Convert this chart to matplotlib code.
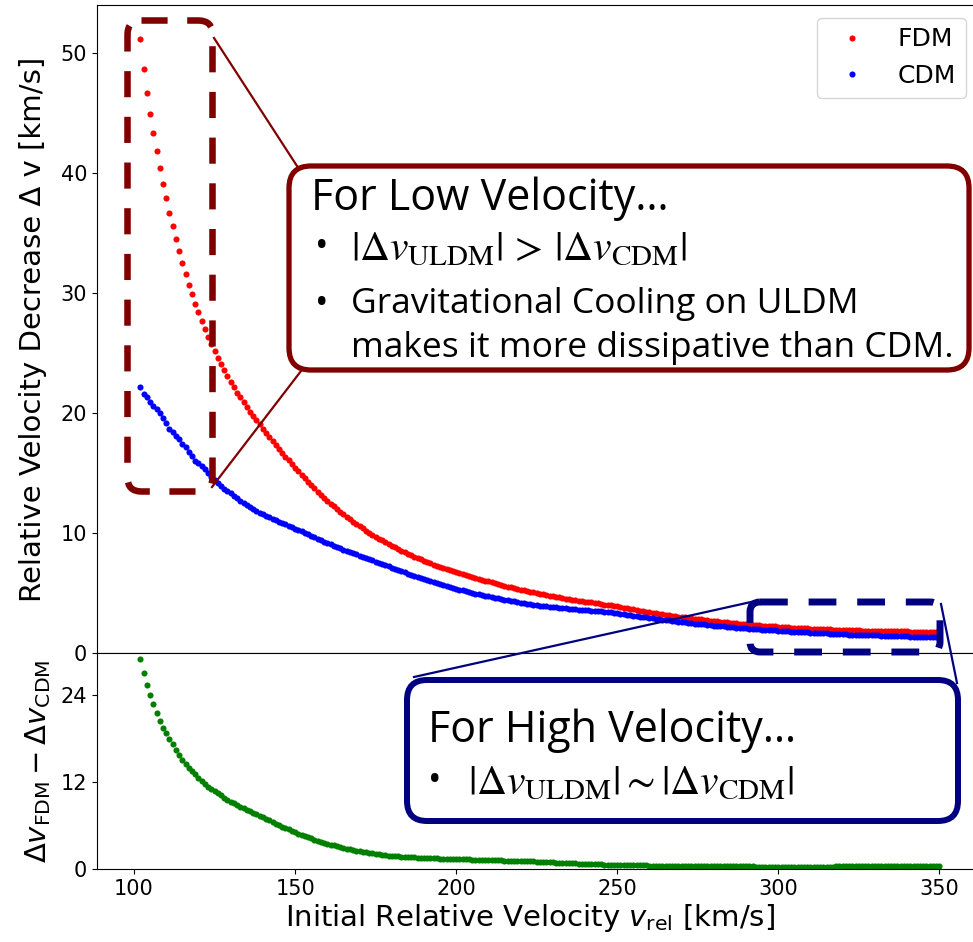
import numpy as np
import matplotlib
matplotlib.use("Agg")
import matplotlib.pyplot as plt
from matplotlib.patches import FancyBboxPatch

# Initial relative velocity grid [km/s]
v_rel = np.arange(102, 351)

# Relative velocity decrease for fuzzy (ultralight) dark matter [km/s]
dv_fdm = np.array([
    51.2, 48.7, 46.7, 44.9, 43.3, 41.8, 40.4, 39.1, 37.9, 36.7,
    35.6, 34.5, 33.5, 32.5, 31.6, 30.7, 29.9, 29.1, 28.4, 27.7,
    27.0, 26.35, 25.75, 25.15, 24.6, 24.05, 23.55, 23.05, 22.6, 22.15,
    21.7, 21.3, 20.9, 20.5, 20.1, 19.75, 19.4, 19.05, 18.7, 18.35,
    18.01, 17.67, 17.34, 17.01, 16.69, 16.37, 16.06, 15.75, 15.45, 15.14,
    14.84, 14.55, 14.26, 13.98, 13.71, 13.44, 13.18, 12.93, 12.68, 12.44,
    12.21, 11.98, 11.76, 11.55, 11.34, 11.14, 10.94, 10.75, 10.56, 10.38,
    10.2, 10.03, 9.86, 9.7, 9.54, 9.38, 9.23, 9.08, 8.94, 8.8,
    8.66, 8.53, 8.4, 8.27, 8.15, 8.03, 7.91, 7.8, 7.69, 7.58,
    7.47, 7.37, 7.27, 7.17, 7.07, 6.98, 6.89, 6.8, 6.71, 6.63,
    6.55, 6.47, 6.39, 6.31, 6.24, 6.17, 6.1, 6.03, 5.96, 5.89,
    5.82, 5.75, 5.68, 5.61, 5.54, 5.47, 5.41, 5.35, 5.29, 5.23,
    5.17, 5.11, 5.05, 4.99, 4.94, 4.89, 4.84, 4.79, 4.74, 4.69,
    4.64, 4.59, 4.54, 4.49, 4.45, 4.41, 4.37, 4.33, 4.29, 4.25,
    4.21, 4.17, 4.13, 4.09, 4.04, 4.0, 3.96, 3.92, 3.88, 3.83,
    3.78, 3.73, 3.68, 3.63, 3.58, 3.54, 3.49, 3.45, 3.40, 3.36,
    3.32, 3.27, 3.23, 3.19, 3.15, 3.11, 3.07, 3.04, 3.0, 2.97,
    2.93, 2.9, 2.86, 2.83, 2.8, 2.77, 2.73, 2.7, 2.67, 2.64,
    2.61, 2.59, 2.56, 2.53, 2.5, 2.48, 2.45, 2.43, 2.4, 2.38,
    2.36, 2.34, 2.31, 2.29, 2.27, 2.25, 2.23, 2.21, 2.19, 2.17,
    2.16, 2.14, 2.12, 2.11, 2.09, 2.08, 2.06, 2.05, 2.03, 2.02,
    2.01, 2.0, 1.98, 1.97, 1.96, 1.95, 1.94, 1.93, 1.92, 1.91,
    1.9, 1.89, 1.89, 1.88, 1.87, 1.86, 1.86, 1.85, 1.84, 1.84,
    1.83, 1.83, 1.82, 1.82, 1.81, 1.81, 1.8, 1.8, 1.8, 1.79,
    1.79, 1.79, 1.78, 1.78, 1.78, 1.77, 1.77, 1.77, 1.76,
])

# Relative velocity decrease for cold dark matter [km/s]
dv_cdm = np.array([
    22.2, 21.6, 21.3, 20.9, 20.6, 20.3, 20.0, 19.6, 19.2, 18.7,
    18.4, 18.05, 17.8, 17.45, 17.15, 16.75, 16.4, 16.0, 15.8, 15.55,
    15.3, 15.0, 14.7, 14.4, 14.15, 13.9, 13.7, 13.5, 13.3, 13.1,
    12.9, 12.7, 12.5, 12.3, 12.15, 12.0, 11.85, 11.7, 11.55, 11.43,
    11.31, 11.19, 11.07, 10.95, 10.83, 10.71, 10.59, 10.48, 10.37, 10.25,
    10.13, 10.01, 9.89, 9.77, 9.65, 9.53, 9.41, 9.29, 9.17, 9.06,
    8.95, 8.84, 8.73, 8.62, 8.52, 8.42, 8.32, 8.22, 8.12, 8.02,
    7.92, 7.82, 7.72, 7.62, 7.52, 7.42, 7.32, 7.22, 7.12, 7.02,
    6.92, 6.82, 6.72, 6.62, 6.52, 6.42, 6.33, 6.24, 6.15, 6.06,
    5.97, 5.89, 5.81, 5.73, 5.65, 5.57, 5.49, 5.42, 5.35, 5.28,
    5.21, 5.14, 5.07, 5.01, 4.95, 4.89, 4.83, 4.77, 4.71, 4.65,
    4.6, 4.55, 4.5, 4.45, 4.4, 4.35, 4.3, 4.25, 4.2, 4.15,
    4.1, 4.05, 4.0, 3.96, 3.94, 3.91, 3.89, 3.86, 3.84, 3.81,
    3.78, 3.75, 3.72, 3.69, 3.67, 3.65, 3.62, 3.6, 3.57, 3.55,
    3.53, 3.51, 3.48, 3.46, 3.43, 3.4, 3.38, 3.35, 3.33, 3.29,
    3.24, 3.2, 3.16, 3.11, 3.07, 3.04, 3.0, 2.96, 2.92, 2.89,
    2.85, 2.81, 2.77, 2.74, 2.71, 2.67, 2.64, 2.61, 2.58, 2.55,
    2.52, 2.49, 2.45, 2.43, 2.4, 2.38, 2.34, 2.32, 2.29, 2.26,
    2.24, 2.22, 2.19, 2.17, 2.14, 2.12, 2.09, 2.08, 2.05, 2.03,
    2.01, 2.0, 1.97, 1.95, 1.93, 1.91, 1.9, 1.88, 1.86, 1.84,
    1.83, 1.81, 1.79, 1.78, 1.76, 1.75, 1.73, 1.72, 1.7, 1.69,
    1.68, 1.66, 1.64, 1.63, 1.62, 1.61, 1.59, 1.58, 1.57, 1.56,
    1.54, 1.53, 1.53, 1.51, 1.5, 1.49, 1.49, 1.47, 1.46, 1.46,
    1.44, 1.44, 1.43, 1.42, 1.41, 1.41, 1.39, 1.39, 1.38, 1.37,
    1.37, 1.36, 1.35, 1.35, 1.34, 1.33, 1.33, 1.32, 1.31,
])

# Difference panel
dv_diff = dv_fdm - dv_cdm

x_ticks = [100, 150, 200, 250, 300, 350]
top_yticks = [0, 10, 20, 30, 40, 50]
bottom_yticks = [0, 12, 24]

W, H = 973, 942
fig = plt.figure(figsize=(W / 100, H / 100), dpi=100)


def px_rect(left, top, right, bottom):
    """Figure-fraction rectangle from pixel edges (origin top-left)."""
    return [left / W, 1 - bottom / H, (right - left) / W, (bottom - top) / H]


ax_top = fig.add_axes(px_rect(97, 5, 978, 653))
ax_bot = fig.add_axes(px_rect(97, 653, 978, 869))

marker_kw = dict(linestyle="none", marker="o", ms=4.4, mew=0)
ax_top.plot(v_rel, dv_fdm, color="red", label="FDM", **marker_kw)
ax_top.plot(v_rel, dv_cdm, color="blue", label="CDM", **marker_kw)
ax_bot.plot(v_rel, dv_diff, color="green", **marker_kw)

for ax in (ax_top, ax_bot):
    ax.set_xlim(88.5, 362)
    ax.tick_params(labelsize=15)

ax_top.set_ylim(0, 54)
ax_top.set_yticks(top_yticks)
ax_top.tick_params(axis="x", bottom=False, labelbottom=False)

ax_bot.set_ylim(0, 29.8)
ax_bot.set_yticks(bottom_yticks)
ax_bot.set_xticks(x_ticks)

ax_top.set_ylabel("Relative Velocity Decrease Δ v [km/s]", fontsize=21)
ax_top.yaxis.set_label_coords(-0.0568, 0.5)
ax_bot.set_ylabel(r"$\Delta v_{\rm FDM} - \Delta v_{\rm CDM}$", fontsize=21)
ax_bot.yaxis.set_label_coords(-0.05, 0.5)
ax_bot.set_xlabel(r"Initial Relative Velocity $v_{\rm rel}$ [km/s]", fontsize=21)
ax_bot.xaxis.set_label_coords(0.492, -0.153)

ax_top.legend(loc="upper right", fontsize=18, numpoints=1)

# Callout layer in pixel coordinates
ov = fig.add_axes([0, 0, 1, 1], zorder=5)
ov.set_xlim(0, W)
ov.set_ylim(H, 0)
ov.axis("off")
ov.patch.set_alpha(0)

dark_red = "#800000"
navy = "#000080"
head_font = "Open Sans"
body_font = "Open Sans"
head_size = 31
body_size = 25.5
bullet_size = 26

# Low-velocity callout
ov.plot([214, 297], [38, 166], color=dark_red, lw=1.6)
ov.plot([212, 301], [487, 371], color=dark_red, lw=1.6)
ov.add_patch(FancyBboxPatch((127.5, 20.5), 85, 471,
                            boxstyle="round,pad=0,rounding_size=14",
                            ec=dark_red, fc="none", lw=4.7, ls=(0, (4, 3))))
ov.add_patch(FancyBboxPatch((289, 166), 680, 204,
                            boxstyle="round,pad=0,rounding_size=22",
                            ec=dark_red, fc="white", lw=3.8))
ov.text(311, 210, "For Low Velocity…", fontfamily=head_font, fontsize=head_size,
        va="baseline", ha="left")
ov.text(322, 257, "•", fontfamily=body_font, fontsize=bullet_size, va="baseline", ha="center")
ov.text(351, 260, r"$|\Delta v_{\mathrm{ULDM}}|\,>\,|\Delta v_{\mathrm{CDM}}|$",
        math_fontfamily="stix", fontsize=30, va="baseline", ha="left")
ov.text(322, 314, "•", fontfamily=body_font, fontsize=bullet_size, va="baseline", ha="center")
ov.text(351, 313, "Gravitational Cooling on ULDM", fontfamily=body_font,
        fontsize=body_size, va="baseline", ha="left")
ov.text(351, 357, "makes it more dissipative than CDM.", fontfamily=body_font,
        fontsize=body_size, va="baseline", ha="left")

# High-velocity callout
ov.plot([751, 414], [602, 677], color=navy, lw=1.6)
ov.plot([941, 957], [604, 683], color=navy, lw=1.6)
ov.add_patch(FancyBboxPatch((750, 602), 190, 50,
                            boxstyle="round,pad=0,rounding_size=10",
                            ec=navy, fc="none", lw=5, ls=(0, (4, 3))))
ov.add_patch(FancyBboxPatch((407, 680), 551, 141,
                            boxstyle="round,pad=0,rounding_size=20",
                            ec=navy, fc="white", lw=4.3))
ov.text(428, 742, "For High Velocity…", fontfamily=head_font, fontsize=head_size,
        va="baseline", ha="left")
ov.text(435, 791, "•", fontfamily=body_font, fontsize=bullet_size, va="baseline", ha="center")
ov.text(468, 794, r"$|\Delta v_{\mathrm{ULDM}}|{\sim}|\Delta v_{\mathrm{CDM}}|$",
        math_fontfamily="stix", fontsize=30, va="baseline", ha="left")

fig.savefig("out.png", dpi=100)
